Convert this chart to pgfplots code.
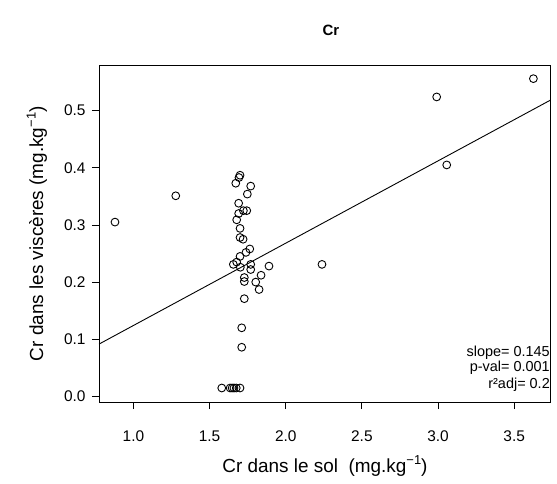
\documentclass[border=0pt]{standalone}
\usepackage{fontspec}
\setmainfont{Liberation Sans}
\usepackage{pgfplots}
\pgfplotsset{compat=1.18}
\usetikzlibrary{calc}
\newcommand{\supx}[1]{\raisebox{0.75ex}{\fontsize{13}{13}\selectfont #1}}
\begin{document}
\begin{tikzpicture}
\begin{axis}[
  scale only axis,
  width=451bp, height=336.5bp,
  xmin=0.774, xmax=3.735,
  ymin=-0.0098, ymax=0.579,
  xtick={1,1.5,2,2.5,3,3.5},
  ytick={0,0.1,0.2,0.3,0.4,0.5},
  xtick pos=bottom, ytick pos=left,
  tick align=outside,
  major tick length=7bp,
  tick style={black, line width=0.8bp},
  axis line style={line width=0.8bp},
  /pgf/number format/assume math mode=true,
  /pgf/number format/.cd, fixed, fixed zerofill, precision=1,
  /pgfplots/.cd,
  ticklabel style={font=\fontsize{15.5}{17}\selectfont},
  xticklabel style={yshift=-18bp},
  yticklabel style={xshift=-3bp},
  clip=false,
]
\addplot[only marks, mark=o, mark size=3.9bp, mark options={line width=0.9bp, black}] coordinates {
(0.879,0.305) (1.278,0.351) (2.991,0.524) (3.626,0.556) (3.057,0.405) (2.238,0.231)
(1.700,0.387) (1.693,0.383) (1.672,0.373) (1.770,0.368) (1.748,0.354) (1.691,0.338)
(1.722,0.325) (1.744,0.325) (1.691,0.320) (1.678,0.309) (1.700,0.294) (1.700,0.278)
(1.720,0.275) (1.764,0.258) (1.739,0.252) (1.700,0.245) (1.678,0.235) (1.656,0.231)
(1.702,0.226) (1.770,0.231) (1.770,0.222) (1.890,0.228) (1.838,0.212) (1.728,0.208)
(1.728,0.201) (1.803,0.200) (1.825,0.187) (1.728,0.171) (1.711,0.120) (1.711,0.086)
(1.580,0.0147) (1.635,0.0147) (1.648,0.0147) (1.660,0.0147) (1.675,0.0147) (1.700,0.0147)
};
\addplot[black, line width=0.9bp] coordinates {(0.774,0.0915) (3.735,0.518)};
\node[anchor=east, inner sep=0pt, font=\fontsize{14.5}{16}\selectfont] at (rel axis cs:1,0.146) {slope= 0.145};
\node[anchor=east, inner sep=0pt, font=\fontsize{14.5}{16}\selectfont] at (rel axis cs:1,0.101) {p-val= 0.001};
\node[anchor=east, inner sep=0pt, font=\fontsize{14.5}{16}\selectfont] at (rel axis cs:1,0.0505) {r²adj= 0.2};
\coordinate (bl) at (rel axis cs:0,0);
\coordinate (tr) at (rel axis cs:1,1);
\end{axis}
\node[font=\fontsize{15}{17}\selectfont\bfseries] at ($(bl)!0.514!(bl-|tr) + (0,336.5bp+35.5bp)$) {Cr};
\node[font=\fontsize{19}{22}\selectfont] at ($(bl)!0.501!(bl-|tr) + (0,-64bp)$) {Cr dans le sol\ \ (mg.kg\supx{−1})};
\node[font=\fontsize{19}{22}\selectfont, rotate=90] at ($(bl)!0.5!(bl|-tr) + (-62bp,0)$) {Cr dans les viscères (mg.kg\supx{−1})};
\pgfresetboundingbox
\path (bl) ++(-99bp,-82bp) rectangle ++(557bp,484bp);
\end{tikzpicture}
\end{document}
